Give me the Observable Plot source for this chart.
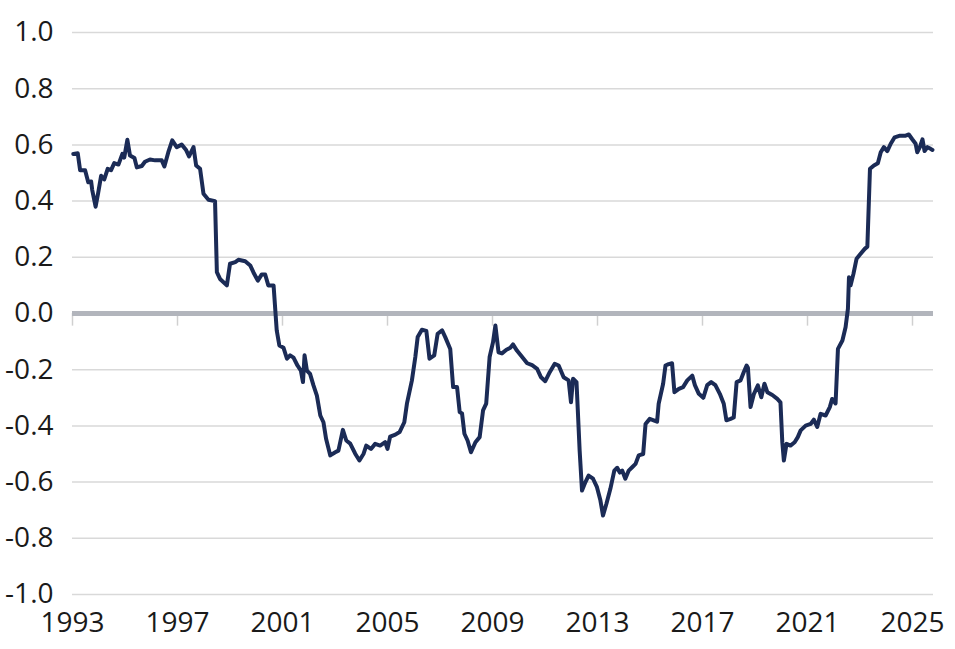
<!DOCTYPE html>
<html><head><meta charset="utf-8">
<script src="https://cdn.jsdelivr.net/npm/d3@7"></script>
<script src="https://cdn.jsdelivr.net/npm/@observablehq/plot@0.6"></script>
<style>body{margin:0;background:#fff;} svg{display:block}</style>
</head><body><div id="chart"></div>
<script>
const years = [1993.03,1993.20,1993.29,1993.48,1993.60,1993.71,1993.75,1993.88,1993.98,1994.09,1994.21,1994.34,1994.47,1994.59,1994.75,1994.90,1994.97,1995.09,1995.19,1995.36,1995.45,1995.64,1995.76,1995.95,1996.15,1996.40,1996.50,1996.65,1996.80,1996.97,1997.16,1997.32,1997.44,1997.61,1997.71,1997.86,1997.99,1998.18,1998.43,1998.50,1998.62,1998.88,1999.00,1999.20,1999.32,1999.58,1999.77,1999.89,2000.06,2000.21,2000.34,2000.46,2000.66,2000.78,2000.88,2001.04,2001.17,2001.29,2001.42,2001.57,2001.70,2001.78,2001.84,2001.93,2002.05,2002.18,2002.31,2002.44,2002.56,2002.66,2002.82,2003.01,2003.13,2003.30,2003.43,2003.58,2003.77,2003.93,2004.09,2004.19,2004.37,2004.53,2004.72,2004.91,2005.00,2005.10,2005.30,2005.46,2005.64,2005.74,2005.93,2006.06,2006.15,2006.31,2006.48,2006.60,2006.78,2006.91,2007.08,2007.20,2007.39,2007.50,2007.65,2007.75,2007.84,2007.93,2008.05,2008.18,2008.35,2008.51,2008.64,2008.76,2008.89,2009.02,2009.11,2009.23,2009.36,2009.53,2009.68,2009.78,2009.93,2010.13,2010.32,2010.51,2010.70,2010.85,2011.01,2011.18,2011.37,2011.52,2011.71,2011.90,2011.99,2012.07,2012.20,2012.25,2012.32,2012.41,2012.54,2012.66,2012.83,2012.98,2013.11,2013.21,2013.34,2013.49,2013.64,2013.75,2013.85,2013.94,2014.06,2014.19,2014.32,2014.45,2014.57,2014.74,2014.83,2014.99,2015.14,2015.27,2015.33,2015.50,2015.59,2015.71,2015.84,2015.93,2016.10,2016.26,2016.42,2016.61,2016.71,2016.86,2017.03,2017.18,2017.33,2017.49,2017.66,2017.81,2017.91,2018.07,2018.19,2018.30,2018.45,2018.57,2018.68,2018.73,2018.83,2018.96,2019.11,2019.24,2019.36,2019.47,2019.66,2019.85,2019.97,2020.04,2020.10,2020.20,2020.35,2020.51,2020.63,2020.74,2020.93,2021.12,2021.24,2021.37,2021.50,2021.69,2021.85,2021.94,2022.07,2022.16,2022.33,2022.45,2022.54,2022.58,2022.64,2022.75,2022.87,2023.00,2023.18,2023.28,2023.38,2023.53,2023.68,2023.79,2023.91,2024.04,2024.17,2024.32,2024.52,2024.74,2024.86,2024.99,2025.12,2025.18,2025.28,2025.38,2025.46,2025.57,2025.69,2025.76];
const values = [0.568,0.57,0.51,0.51,0.467,0.47,0.44,0.38,0.43,0.49,0.477,0.515,0.51,0.535,0.53,0.568,0.555,0.618,0.562,0.553,0.52,0.525,0.54,0.548,0.545,0.545,0.523,0.574,0.616,0.592,0.601,0.583,0.559,0.592,0.527,0.515,0.426,0.405,0.40,0.147,0.123,0.10,0.177,0.183,0.191,0.186,0.171,0.147,0.117,0.139,0.139,0.10,0.10,-0.06,-0.114,-0.122,-0.161,-0.149,-0.157,-0.185,-0.203,-0.244,-0.149,-0.203,-0.215,-0.256,-0.292,-0.363,-0.387,-0.446,-0.505,-0.494,-0.488,-0.414,-0.452,-0.463,-0.499,-0.523,-0.499,-0.47,-0.482,-0.464,-0.47,-0.458,-0.482,-0.438,-0.431,-0.422,-0.387,-0.321,-0.238,-0.155,-0.084,-0.058,-0.062,-0.161,-0.149,-0.072,-0.06,-0.084,-0.126,-0.262,-0.262,-0.351,-0.356,-0.428,-0.452,-0.494,-0.458,-0.44,-0.345,-0.321,-0.155,-0.102,-0.043,-0.138,-0.142,-0.129,-0.122,-0.11,-0.132,-0.155,-0.177,-0.184,-0.197,-0.227,-0.241,-0.209,-0.179,-0.185,-0.227,-0.238,-0.316,-0.232,-0.244,-0.345,-0.488,-0.63,-0.60,-0.577,-0.588,-0.618,-0.665,-0.719,-0.677,-0.624,-0.559,-0.549,-0.566,-0.559,-0.588,-0.559,-0.547,-0.535,-0.505,-0.50,-0.393,-0.375,-0.38,-0.385,-0.321,-0.25,-0.185,-0.18,-0.177,-0.28,-0.268,-0.262,-0.238,-0.221,-0.255,-0.286,-0.30,-0.255,-0.244,-0.255,-0.286,-0.321,-0.38,-0.375,-0.37,-0.244,-0.238,-0.209,-0.185,-0.193,-0.333,-0.286,-0.256,-0.298,-0.25,-0.28,-0.29,-0.304,-0.316,-0.458,-0.523,-0.464,-0.47,-0.458,-0.44,-0.416,-0.399,-0.393,-0.378,-0.404,-0.357,-0.363,-0.333,-0.304,-0.32,-0.126,-0.096,-0.049,0.017,0.129,0.10,0.141,0.195,0.21,0.23,0.238,0.515,0.527,0.535,0.574,0.592,0.578,0.604,0.627,0.633,0.633,0.637,0.62,0.604,0.574,0.592,0.62,0.578,0.592,0.586,0.582];
const xTicks = [1993,1997,2001,2005,2009,2013,2017,2021,2025];
const yTicks = [-1.0,-0.8,-0.6,-0.4,-0.2,0,0.2,0.4,0.6,0.8,1.0];

const data = years.map((t, i) => ({t, v: values[i]}));

const chart = Plot.plot({
  width: 955, height: 649,
  marginLeft: 72, marginRight: 22, marginTop: 32, marginBottom: 55,
  style: {fontFamily: "'Open Sans', sans-serif", fontSize: "28px", color: "#1a1a1a", background: "#fff"},
  x: {domain: [1993, 2025.8], label: null},
  y: {domain: [-1, 1], label: null},
  marks: [
    Plot.ruleY(yTicks.filter(d => d !== 0), {stroke: "#d9d9d9", strokeWidth: 1.5}),
    Plot.ruleX(xTicks, {y1: 0, y2: -0.045, stroke: "#d0d0d0", strokeWidth: 1.5}),
    Plot.ruleY([0], {stroke: "#b2b5bc", strokeWidth: 5}),
    Plot.line(data, {x: "t", y: "v", stroke: "#1b2b56", strokeWidth: 4, strokeLinejoin: "round", curve: "linear"}),
    Plot.axisY({ticks: yTicks, tickSize: 0, tickPadding: 19, tickFormat: d => d.toFixed(1), fontSize: 28, label: null}),
    Plot.axisX({ticks: xTicks, tickSize: 0, tickPadding: 18, tickFormat: d => String(d), fontSize: 28, label: null})
  ]
});
document.getElementById("chart").append(chart);
</script>
</body></html>
